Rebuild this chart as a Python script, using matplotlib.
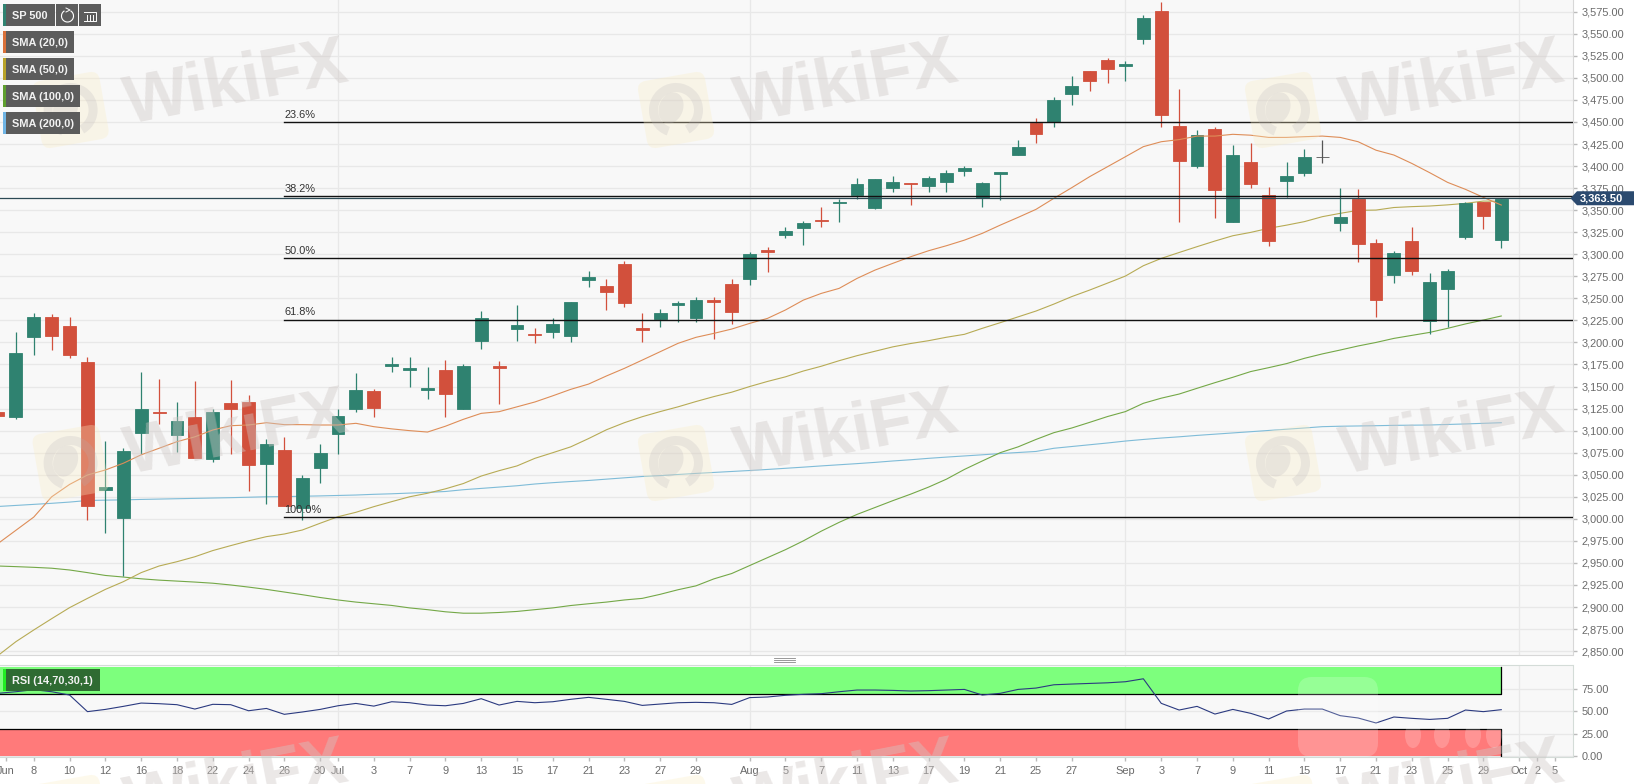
import matplotlib
matplotlib.use('Agg')
import matplotlib.pyplot as plt
from matplotlib.patches import FancyBboxPatch, Rectangle, Circle, Wedge, Ellipse, Polygon, Arc
from matplotlib.transforms import Affine2D
import numpy as np

plt.rcParams['font.family'] = ['Liberation Sans', 'DejaVu Sans']

W, H = 1634, 784

# daily candles, one per trading day
opens = [3121, 3115.4, 3205.8, 3228.8, 3219, 3178, 3033, 3000.5, 3097, 3121,
         3095, 3115, 3067.8, 3131, 3132.5, 3062.5, 3078, 3012, 3058, 3096,
         3124.5, 3145, 3173, 3169, 3146.5, 3168.7, 3124.5, 3202, 3173, 3215,
         3210, 3211.4, 3207.7, 3270.4, 3263.6, 3288.9, 3216, 3226.5, 3242.4, 3227.3,
         3248.5, 3266.2, 3272.3, 3304.4, 3321.4, 3329.7, 3338.8, 3357.7, 3367.5, 3352,
         3375, 3380.7, 3377.3, 3382, 3394.7, 3363.4, 3391.3, 3412, 3449, 3450,
         3481.2, 3507.7, 3519.8, 3513.4, 3543.7, 3575.8, 3445.3, 3399.9, 3441.5, 3336.9,
         3404.2, 3366.8, 3383, 3392, 3410.4, 3335.8, 3363, 3313, 3276.4, 3315,
         3224.3, 3260.2, 3319.9, 3358.8, 3316.5]
highs = [3121, 3212, 3233, 3232, 3229, 3183, 3088, 3080, 3167, 3159,
         3132, 3156, 3125, 3157, 3140, 3090, 3092.5, 3050, 3085, 3125,
         3165, 3147, 3183, 3184, 3172.5, 3180, 3175, 3236, 3178.5, 3243,
         3216, 3228, 3246, 3281, 3272.3, 3292.7, 3233.8, 3238, 3247.5, 3251.8,
         3251.8, 3272, 3303, 3308, 3331.4, 3337.3, 3353.9, 3363, 3387, 3385,
         3389, 3380.7, 3389, 3396, 3400.5, 3382, 3392.8, 3429, 3454, 3478,
         3502.4, 3507.7, 3523, 3518.7, 3570.9, 3586.3, 3486.9, 3440.7, 3444.5, 3423.9,
         3425.8, 3376.6, 3404.2, 3419.7, 3429, 3375.5, 3373.6, 3316.9, 3303.3, 3330.5,
         3279, 3282.9, 3359.6, 3358.8, 3363]
lows = [3116.6, 3112.8, 3185.4, 3192, 3182, 2999, 2984, 2935.5, 3073.5, 3108,
        3076, 3069, 3064, 3073.5, 3031, 3017, 3014.5, 2999, 3041, 3073.5,
        3121.5, 3116, 3166, 3149, 3136, 3115, 3124.5, 3192.5, 3130, 3202,
        3199, 3205, 3200, 3263, 3237, 3239.7, 3200.9, 3217, 3222.8, 3223.6,
        3204, 3221, 3265, 3280, 3319, 3310, 3331, 3337, 3363, 3351,
        3371, 3356, 3371, 3371, 3388.3, 3354, 3362, 3412, 3426.5, 3444.6,
        3469.6, 3485.4, 3494.5, 3496, 3538, 3444.5, 3337, 3398, 3340.7, 3336.9,
        3374.7, 3309.7, 3365, 3389, 3403, 3326.7, 3291.6, 3228.4, 3267.7, 3276.4,
        3209.5, 3217.9, 3316.9, 3328.2, 3307]
closes = [3116.6, 3187.6, 3228.8, 3207.6, 3186, 3015, 3036, 3076.5, 3125, 3119.5,
          3111, 3069, 3120.7, 3124, 3061, 3085, 3014.5, 3046, 3075, 3117,
          3146, 3126, 3176, 3171.5, 3148, 3142, 3173.6, 3228, 3171.5, 3219.7,
          3208.8, 3220.9, 3245.4, 3274, 3257.5, 3245, 3214.5, 3233.7, 3244.7, 3248,
          3246, 3234.5, 3299.9, 3302.5, 3326.7, 3336, 3337.7, 3358.8, 3379.6, 3384.9,
          3382, 3379.6, 3386, 3392, 3397.7, 3380.4, 3392.8, 3421.6, 3436, 3475,
          3490.3, 3496.8, 3510, 3516, 3567.8, 3457.8, 3405.2, 3435.4, 3373.4, 3412.5,
          3379.2, 3315.3, 3389, 3410.6, 3410.4, 3342.2, 3312, 3247.7, 3301.8, 3281.4,
          3268.5, 3280.6, 3358.4, 3343.7, 3363]

sma20 = [2972, 2987, 3002, 3025, 3039, 3049.7, 3055.4, 3063, 3072.6, 3080,
         3087.5, 3093, 3100.7, 3105.6, 3106.4, 3109, 3106.8, 3106.8, 3106.4, 3106.4,
         3108.3, 3104.5, 3102, 3100, 3098.4, 3105, 3112.8, 3119.6, 3121.5, 3127,
         3132.5, 3139.5, 3146.8, 3152.8, 3162, 3170.6, 3180, 3189.5, 3199, 3205.8,
         3210.3, 3215.2, 3221.6, 3227.3, 3236.8, 3248, 3255.6, 3261.3, 3272.6, 3282,
         3289.7, 3297.2, 3304, 3309.7, 3316, 3323.7, 3333, 3341.8, 3350.9, 3363.4,
         3375.5, 3388, 3399.3, 3410.6, 3422, 3427.6, 3430, 3434, 3434, 3436,
         3435, 3432.5, 3432.5, 3433.3, 3434, 3432.5, 3427.6, 3418, 3412.5, 3403,
         3392.5, 3381.5, 3373.6, 3364.5, 3355.8]
sma50 = [2845, 2860.7, 2874, 2886.8, 2899.3, 2909.8, 2920, 2928.7, 2939, 2946.5,
         2951.4, 2957, 2964, 2969.6, 2975, 2979.8, 2982.8, 2987.3, 2995, 3002.4,
         3007.4, 3013.8, 3019.5, 3025, 3029, 3034, 3040, 3048.5, 3054.6, 3060,
         3068.6, 3075, 3081.6, 3091, 3101, 3109, 3115.8, 3121.6, 3127, 3133,
         3138.6, 3143.6, 3150, 3155.8, 3161, 3167.6, 3173, 3179.3, 3185, 3190,
         3195, 3198.8, 3202, 3205.9, 3209.2, 3216, 3222.4, 3229, 3235.6, 3243.5,
         3252, 3259.4, 3267.3, 3275.3, 3287, 3295.3, 3302, 3308.6, 3315, 3321,
         3324.8, 3329.4, 3333, 3337, 3342.6, 3346.4, 3349.8, 3350.1, 3353, 3354,
         3354.7, 3356, 3357.7, 3360.3, 3360]
sma100 = [2946.5, 2945.8, 2945, 2944, 2942, 2939, 2935.8, 2934, 2932, 2930.5,
          2929.4, 2928.3, 2927, 2925, 2922.6, 2920, 2917, 2914, 2910.8, 2908,
          2905.6, 2903.7, 2901.8, 2899, 2897, 2894.6, 2893, 2893, 2893.8, 2895,
          2897, 2899, 2901.7, 2903.7, 2905.6, 2908, 2909.8, 2914.4, 2919.6, 2924,
          2931.9, 2938, 2947, 2956, 2965, 2975, 2986, 2996, 3005, 3012.8,
          3020.6, 3028, 3036, 3045, 3056, 3065.6, 3075, 3081.6, 3090, 3097.7,
          3103, 3109.4, 3116, 3121.6, 3131, 3136.8, 3141.5, 3148, 3154.4, 3160.5,
          3167, 3171.4, 3176, 3182, 3187, 3191.4, 3196, 3200, 3204.6, 3208,
          3211.4, 3216, 3221, 3225.4, 3230]
sma200 = [3014, 3015.2, 3016.4, 3017.6, 3019, 3020.8, 3021.2, 3021.5, 3022, 3022.4,
          3022.8, 3023.2, 3023.6, 3024, 3024.5, 3025, 3025.2, 3025.6, 3026, 3026.5,
          3027, 3027.8, 3028.4, 3029.2, 3030, 3031, 3033, 3034.5, 3036, 3037.5,
          3039.5, 3041, 3042.3, 3043.5, 3045, 3046.5, 3048, 3049, 3050.3, 3051.5,
          3052.6, 3053.7, 3054.8, 3056, 3057.3, 3058.6, 3060, 3061.3, 3062.6, 3064,
          3065.6, 3067, 3068.6, 3070, 3071.3, 3072.6, 3074, 3075.2, 3076.4, 3080,
          3082, 3084, 3086, 3088.2, 3090, 3091.6, 3093, 3094.6, 3096, 3097.4,
          3098.8, 3100.2, 3101.6, 3103, 3104.5, 3105, 3105.3, 3105.6, 3106, 3106.2,
          3106.4, 3107, 3107.6, 3108.3, 3109]
rsi = [70.2, 72, 74.3, 72, 68.3, 49.7, 52.2, 55.6, 59.3, 58.6,
       57.5, 52.6, 57.9, 57.5, 50.7, 53.3, 46.7, 49.3, 52.2, 56.3,
       58.9, 55.9, 60.8, 59.7, 57.1, 56.3, 58.9, 64.2, 57.1, 61.2,
       59.7, 60.8, 63.5, 65.7, 63.5, 61.2, 56.7, 58.2, 59.7, 60.1,
       59.7, 57.8, 65.4, 66.1, 68, 69.1, 69.8, 72, 73.9, 73.9,
       73.5, 72.8, 73.2, 73.9, 74.6, 68.3, 70.2, 74.6, 76.1, 79.8,
       80.6, 81.3, 82, 83.2, 86.5, 59, 51.5, 55.6, 47, 52.2,
       47.8, 41.5, 50.4, 52.6, 52.6, 45.2, 42.6, 37, 43.7, 42.2,
       41, 42.2, 51.5, 49.7, 51.9]

fib_levels = [3450.3, 3365.6, 3295.7, 3226, 3002.4]
fib_labels = ['23.6%', '38.2%', '50.0%', '61.8%', '100.0%']
fib_start = 16
last_price = 3363.5

tick_pos = [0.42, 2, 4, 6, 8, 10, 12, 14, 16, 18, 19, 21, 23, 25, 27, 29, 31, 33, 35, 37, 39,
            42, 44, 46, 48, 50, 52, 54, 56, 58, 60, 63, 65, 67, 69, 71, 73, 75, 77, 79, 81, 83,
            85, 86, 87]
tick_txt = ['Jun', '8', '10', '12', '16', '18', '22', '24', '26', '30', 'Jul', '3', '7', '9', '13',
            '15', '17', '21', '23', '27', '29', 'Aug', '5', '7', '11', '13', '17', '19', '21', '25',
            '27', 'Sep', '3', '7', '9', '11', '15', '17', '21', '23', '25', '29', 'Oct', '2', '5']
month_pos = [19, 42, 63, 85]

GREEN = '#2f8270'
RED = '#d2503c'
GREY_TXT = '#6a6a6a'
GRID = '#e8e8e8'
BG = '#f8f8f8'


def px_axes(fig, x0, y0, x1, y1):
    """Axes from picture pixels (y going down)"""
    return fig.add_axes([x0 / W, 1 - y1 / H, (x1 - x0) / W, (y1 - y0) / H])


def draw_candles(ax):
    x = np.arange(len(opens))
    for i in x:
        o, c = opens[i], closes[i]
        col = GREEN if c > o else RED
        if c == o:
            col = '#555555'
        ax.vlines(i, lows[i], highs[i], color=col, lw=0.9, zorder=3)
        ax.bar(i, abs(c - o), bottom=min(o, c), width=0.72, color=col, edgecolor=col, lw=0.6, zorder=3)


def draw_watermark(ov, tx, ty, lx, ly):
    ov.text(tx, ty, 'WikiFX', fontsize=49, fontweight='bold', color='#cfc8c6', alpha=0.42,
            rotation=11, ha='center', va='center', rotation_mode='anchor', zorder=2)
    rot = Affine2D().rotate_deg_around(lx, ly, -10) + ov.transData
    box = FancyBboxPatch((lx - 30, ly - 30), 60, 60, boxstyle='round,pad=4,rounding_size=9',
                         fc='#fbeec4', ec='none', alpha=0.32, transform=rot, zorder=2)
    ov.add_patch(box)
    ov.add_patch(Wedge((lx, ly), 27, 110, 420, width=9, fc='#b4b0b8', ec='none', alpha=0.22, zorder=2))
    ov.add_patch(Ellipse((lx - 5, ly - 2), 24, 32, angle=20, fc='#b4b0b8', ec='none', alpha=0.22, zorder=2))


def draw_chip(ov, y0, x1, stripe, txt):
    ov.add_patch(Rectangle((3, y0), x1 - 3, 22, fc='#5c5c5c', ec='none', zorder=5))
    ov.add_patch(Rectangle((3, y0), 3, 22, fc=stripe, ec='none', zorder=6))
    ov.text(12, y0 + 11.5, txt, color='#f2f2f2', fontsize=7.9, fontweight='bold', va='center', zorder=6)


def plot_chart():
    fig = plt.figure(figsize=(W / 100, H / 100), dpi=100, facecolor='white')

    # price panel
    ax = px_axes(fig, 0, 0, 1572.5, 655)
    ax.set_facecolor(BG)
    ax.set_xlim(0.112, 87.98)
    ax.set_ylim(2845.6, 3588.3)
    ax.set_yticks(np.arange(2850, 3576, 25))
    ax.set_yticklabels(['{:,.2f}'.format(v) for v in np.arange(2850, 3576, 25)], color=GREY_TXT, fontsize=7.9)
    ax.yaxis.tick_right()
    ax.tick_params(axis='y', length=3, width=1, color='#bbbbbb', pad=3.5)
    ax.set_xticks(month_pos)
    ax.set_xticklabels([])
    ax.tick_params(axis='x', length=0)
    ax.grid(True, color=GRID, lw=0.9, zorder=0)
    ax.set_axisbelow(True)
    for s in ['top', 'left']:
        ax.spines[s].set_visible(False)
    ax.spines['right'].set_color('#d8d8d8')
    ax.spines['bottom'].set_color('#d8d8d8')

    x = np.arange(len(sma20))
    ax.plot(x, sma200, color='#7fbcd8', lw=0.8, zorder=2)
    ax.plot(x, sma100, color='#74a847', lw=0.8, zorder=2)
    ax.plot(x, sma50, color='#b7ab55', lw=0.8, zorder=2)
    draw_candles(ax)
    ax.plot(x, sma20, color='#de8d58', lw=0.8, zorder=4)

    ax.axhline(last_price, color='#2c4a55', lw=0.9, zorder=4)
    for lev, lab in zip(fib_levels, fib_labels):
        ax.plot([fib_start, 88], [lev, lev], color='#111111', lw=1, zorder=5)
        ax.annotate(lab, (fib_start, lev), xytext=(0, 1.5), textcoords='offset points',
                    color='#333333', fontsize=7.9, va='bottom', zorder=6)

    # RSI panel
    ax2 = px_axes(fig, 0, 664.5, 1572.5, 757)
    ax2.set_facecolor(BG)
    ax2.set_axisbelow(True)
    ax2.set_xlim(0.112, 87.98)
    ax2.set_ylim(-1.1, 102.5)
    ax2.set_yticks([0, 25, 50, 75])
    ax2.set_yticklabels(['0.00', '25.00', '50.00', '75.00'], color=GREY_TXT, fontsize=7.9)
    ax2.yaxis.tick_right()
    ax2.tick_params(axis='y', length=3, width=1, color='#bbbbbb', pad=3.5)
    ax2.set_xticks(tick_pos)
    ax2.set_xticklabels(tick_txt, color=GREY_TXT, fontsize=7.9)
    ax2.tick_params(axis='x', length=3, width=1, color='#bbbbbb', pad=3.5)
    ax2.grid(True, axis='y', color=GRID, lw=0.9, zorder=0)
    for p in month_pos:
        ax2.axvline(p, color=GRID, lw=0.9, zorder=0)
    last = len(rsi) - 1
    ax2.fill_between([0, last], 70, 100, color='#7dff7d', lw=0, zorder=1)
    ax2.fill_between([0, last], 0, 30, color='#ff7a7a', lw=0, zorder=1)
    ax2.plot([0, last, last], [70, 70, 100], color='black', lw=0.9, zorder=2)
    ax2.plot([0, last, last], [30, 30, 0], color='black', lw=0.9, zorder=2)
    ax2.plot(np.arange(len(rsi)), rsi, color='#2b3a80', lw=0.8, zorder=3)
    ax2.spines['left'].set_visible(False)
    for s in ['top', 'right', 'bottom']:
        ax2.spines[s].set_color('#d4dcd8')

    # overlay in picture pixels: watermark, legend chips, price tag
    ov = px_axes(fig, 0, 0, W, H)
    ov.set_xlim(0, W)
    ov.set_ylim(H, 0)
    ov.axis('off')
    ov.patch.set_alpha(0)

    for tx, lx in [(237, 70.6), (847, 676), (1453, 1283)]:
        draw_watermark(ov, tx, 85, lx, 110)
        draw_watermark(ov, tx, 435, lx, 463)
        draw_watermark(ov, tx, 785, lx, 813)

    # white logo laid over the RSI bands
    ov.add_patch(FancyBboxPatch((1303, 682), 70, 70, boxstyle='round,pad=5,rounding_size=14',
                                fc='white', ec='none', alpha=0.2, zorder=3))
    for ex in [1413, 1442, 1473, 1494]:
        ov.add_patch(Ellipse((ex, 735), 16, 26, fc='white', ec='none', alpha=0.2, zorder=3))

    ov.add_patch(Rectangle((3, 4), 52, 22, fc='#5c5c5c', ec='none', zorder=5))
    ov.add_patch(Rectangle((3, 4), 3, 22, fc=GREEN, ec='none', zorder=6))
    ov.text(12, 15.5, 'SP 500', color='#f2f2f2', fontsize=7.9, fontweight='bold', va='center', zorder=6)
    ov.add_patch(Rectangle((56, 4), 22, 22, fc='#5c5c5c', ec='none', zorder=5))
    ov.add_patch(Rectangle((79, 4), 22, 22, fc='#5c5c5c', ec='none', zorder=5))
    ov.add_patch(Arc((67.5, 16), 12, 12, theta1=-60, theta2=240, color='white', lw=0.8, zorder=6))
    ov.plot([66, 70, 66], [8, 10, 12], color='white', lw=0.7, zorder=6)
    ov.plot([84, 96, 96, 84], [12, 12, 21, 21], color='white', lw=0.7, zorder=6)
    for bx in [87, 90, 93]:
        ov.plot([bx, bx], [15, 20], color='white', lw=0.7, zorder=6)

    draw_chip(ov, 31, 74, '#d9703a', 'SMA (20,0)')
    draw_chip(ov, 58, 74, '#b8a32a', 'SMA (50,0)')
    draw_chip(ov, 85, 80, '#5f9f2f', 'SMA (100,0)')
    draw_chip(ov, 112, 80, '#6fb4e4', 'SMA (200,0)')

    ov.add_patch(Rectangle((3, 669), 97, 22, fc='#2f6b32', ec='none', zorder=5))
    ov.add_patch(Rectangle((3, 669), 3, 22, fc='#22ee22', ec='none', zorder=6))
    ov.text(12, 680.5, 'RSI (14,70,30,1)', color='#f2f2f2', fontsize=7.9, fontweight='bold', va='center', zorder=6)

    # drag handle between panels
    for hy in [658, 660, 662]:
        ov.plot([774.5, 795], [hy, hy], color='#888888', lw=0.6, zorder=6)

    # last price tag
    tag_y = H - ax.transData.transform((0, last_price))[1]
    ov.add_patch(Polygon([(1570.5, tag_y), (1577, tag_y - 7), (1634, tag_y - 7), (1634, tag_y + 7), (1577, tag_y + 7)],
                         closed=True, fc='#2b4a6f', ec='none', zorder=6))
    ov.text(1580, tag_y + 0.3, '{:,.2f}'.format(last_price), color='white', fontsize=8, fontweight='bold',
            va='center', zorder=7)

    fig.savefig('out.png', dpi=100)


if __name__ == "__main__":
    plot_chart()
